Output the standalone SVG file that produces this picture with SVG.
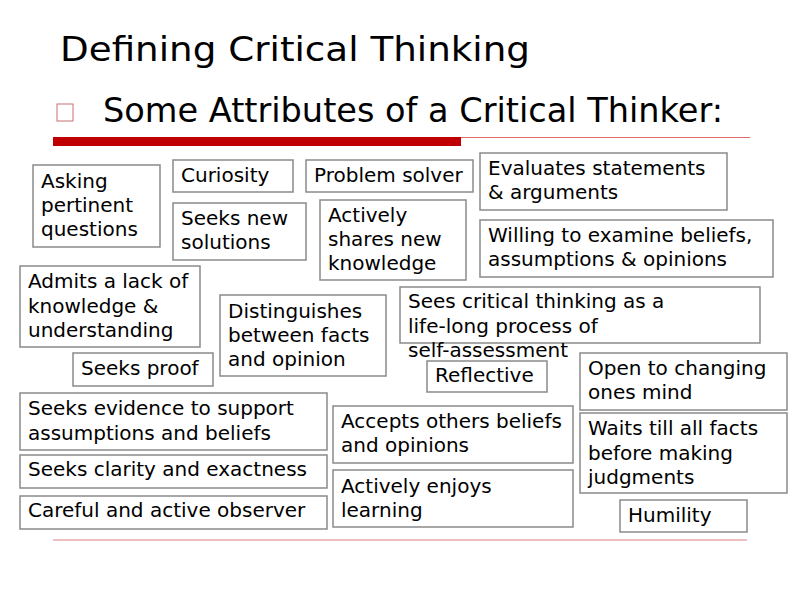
<svg xmlns="http://www.w3.org/2000/svg" width="800" height="600" viewBox="0 0 800 600">
<style>
.box{fill:#fff;stroke:#8a8a8a;stroke-width:1.5}
.t{font-family:"DejaVu Sans",Verdana,"Liberation Sans",sans-serif;font-size:20px;fill:#000}
.h{font-family:"DejaVu Sans",Tahoma,"Liberation Sans",sans-serif;fill:#000}
</style>
<rect width="800" height="600" fill="#fff"/>
<g id="header">
<text class="h" x="60" y="61" font-size="33" textLength="470" lengthAdjust="spacingAndGlyphs">Defining Critical Thinking</text>
<rect x="57" y="104" width="16" height="17" fill="none" stroke="#c87070" stroke-width="1"/>
<text class="h" x="103" y="122" font-size="33" textLength="620" lengthAdjust="spacingAndGlyphs">Some Attributes of a Critical Thinker:</text>
<line x1="53" y1="137.5" x2="750" y2="137.5" stroke="#e06a6a" stroke-width="1.2"/>
<rect x="53" y="137" width="408" height="9" fill="#c00000"/>
<line x1="53" y1="540" x2="747" y2="540" stroke="#e08080" stroke-width="1.2"/>
</g>
<g id="n1"><rect class="box" x="33" y="165" width="127" height="82"/><text class="t" x="41" y="188">Asking</text><text class="t" x="41" y="212">pertinent</text><text class="t" x="41" y="236">questions</text></g>
<g id="n2"><rect class="box" x="173" y="160" width="120" height="32"/><text class="t" x="181" y="182">Curiosity</text></g>
<g id="n3"><rect class="box" x="306" y="160" width="167" height="32"/><text class="t" x="314" y="182">Problem solver</text></g>
<g id="n4"><rect class="box" x="480" y="153" width="247" height="57"/><text class="t" x="488" y="175">Evaluates statements</text><text class="t" x="488" y="199">&amp; arguments</text></g>
<g id="n5"><rect class="box" x="173" y="203" width="133" height="57"/><text class="t" x="181" y="225">Seeks new</text><text class="t" x="181" y="249">solutions</text></g>
<g id="n6"><rect class="box" x="320" y="200" width="146" height="80"/><text class="t" x="328" y="222">Actively</text><text class="t" x="328" y="246">shares new</text><text class="t" x="328" y="270">knowledge</text></g>
<g id="n7"><rect class="box" x="480" y="220" width="293" height="57"/><text class="t" x="488" y="242">Willing to examine beliefs,</text><text class="t" x="488" y="266">assumptions &amp; opinions</text></g>
<g id="n8"><rect class="box" x="20" y="266" width="180" height="81"/><text class="t" x="28" y="288">Admits a lack of</text><text class="t" x="28" y="313">knowledge &amp;</text><text class="t" x="28" y="337">understanding</text></g>
<g id="n9"><rect class="box" x="220" y="295" width="166" height="81"/><text class="t" x="228" y="318">Distinguishes</text><text class="t" x="228" y="342">between facts</text><text class="t" x="228" y="366">and opinion</text></g>
<g id="n10"><rect class="box" x="400" y="287" width="360" height="56"/><text class="t" x="408" y="308">Sees critical thinking as a</text><text class="t" x="408" y="333">life-long process of</text><text class="t" x="408" y="357">self-assessment</text></g>
<g id="n11"><rect class="box" x="73" y="353" width="140" height="33"/><text class="t" x="81" y="375">Seeks proof</text></g>
<g id="n12"><rect class="box" x="427" y="361" width="120" height="31"/><text class="t" x="435" y="382">Reflective</text></g>
<g id="n13"><rect class="box" x="580" y="353" width="207" height="57"/><text class="t" x="588" y="375">Open to changing</text><text class="t" x="588" y="399">ones mind</text></g>
<g id="n14"><rect class="box" x="20" y="393" width="307" height="57"/><text class="t" x="28" y="415">Seeks evidence to support</text><text class="t" x="28" y="440">assumptions and beliefs</text></g>
<g id="n15"><rect class="box" x="333" y="406" width="240" height="57"/><text class="t" x="341" y="428">Accepts others beliefs</text><text class="t" x="341" y="452">and opinions</text></g>
<g id="n16"><rect class="box" x="580" y="413" width="207" height="80"/><text class="t" x="588" y="435">Waits till all facts</text><text class="t" x="588" y="460">before making</text><text class="t" x="588" y="484">judgments</text></g>
<g id="n17"><rect class="box" x="20" y="455" width="307" height="33"/><text class="t" x="28" y="476">Seeks clarity and exactness</text></g>
<g id="n18"><rect class="box" x="333" y="470" width="240" height="57"/><text class="t" x="341" y="493">Actively enjoys</text><text class="t" x="341" y="517">learning</text></g>
<g id="n19"><rect class="box" x="20" y="496" width="307" height="33"/><text class="t" x="28" y="517">Careful and active observer</text></g>
<g id="n20"><rect class="box" x="620" y="500" width="127" height="32"/><text class="t" x="628" y="522">Humility</text></g>
<g id="connectors"></g>
</svg>
